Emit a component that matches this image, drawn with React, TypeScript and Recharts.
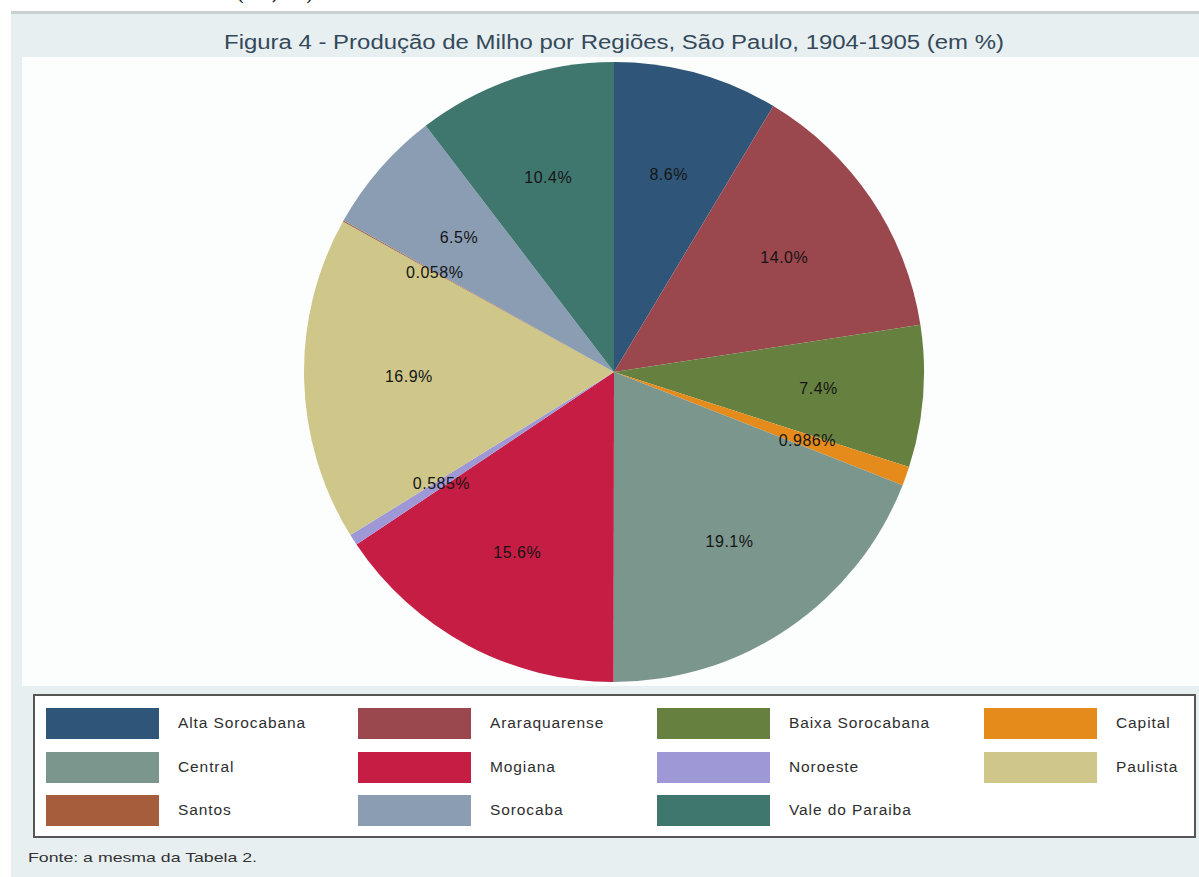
import React from "react";
import { PieChart, Pie, Cell, Legend } from "recharts";

const categories = [
  "Alta Sorocabana",
  "Araraquarense",
  "Baixa Sorocabana",
  "Capital",
  "Central",
  "Mogiana",
  "Noroeste",
  "Paulista",
  "Santos",
  "Sorocaba",
  "Vale do Paraiba",
];
const values = [8.6, 14.0, 7.4, 0.986, 19.1, 15.6, 0.585, 16.9, 0.058, 6.5, 10.4];
const colors = [
  "#2f5679",
  "#9a474e",
  "#65803f",
  "#e58b1c",
  "#7b968d",
  "#c51d44",
  "#9f98d6",
  "#cfc68a",
  "#a65d3b",
  "#8a9db3",
  "#3f776f",
];
const title = "Figura 4 - Produção de Milho por Regiões, São Paulo, 1904-1905 (em %)";
const footer = "Fonte: a mesma da Tabela 2.";

const data = categories.map((name, i) => ({ name, value: values[i] }));

const fmt = (v: number) => (v >= 1 ? v.toFixed(1) : v.toFixed(3)) + "%";

const RAD = Math.PI / 180;
const renderLabel = (props: any) => {
  const { cx, cy, midAngle, outerRadius, value } = props;
  const r = outerRadius * 0.662;
  const x = cx + r * Math.cos(-midAngle * RAD);
  const y = cy + r * Math.sin(-midAngle * RAD);
  return (
    <text
      x={x}
      y={y}
      textAnchor="middle"
      dominantBaseline="central"
      fill="#151515"
      fontSize={16}
      letterSpacing={0.5}
      fontFamily="Liberation Sans, Arial, sans-serif"
    >
      {fmt(value)}
    </text>
  );
};

const colLeft = [13, 325, 624, 951];

const LegendContent = (props: any) => {
  const payload = props.payload || [];
  return (
    <div
      style={{
        position: "relative",
        width: 1163,
        height: 144,
        boxSizing: "border-box",
        border: "2px solid #555",
        background: "#ffffff",
      }}
    >
      {payload.map((item: any, i: number) => {
        const col = i % 4;
        const row = Math.floor(i / 4);
        const left = colLeft[col] - 2;
        const top = 12 + row * 43.5;
        return (
          <div key={i}>
            <div
              style={{
                position: "absolute",
                left,
                top,
                width: 113,
                height: 31,
                background: item.color,
              }}
            />
            <div
              style={{
                position: "absolute",
                left: left + 132,
                top: top + 6,
                fontFamily: "Liberation Sans, Arial, sans-serif",
                fontSize: 15.5,
                letterSpacing: 0.9,
                color: "#2e2e2e",
                lineHeight: "18px",
                whiteSpace: "nowrap",
              }}
            >
              {item.value}
            </div>
          </div>
        );
      })}
    </div>
  );
};

export default function App() {
  return (
    <div
      style={{
        position: "absolute",
        left: 0,
        top: 0,
        width: 1199,
        height: 877,
        background: "#ffffff",
        overflow: "hidden",
      }}
    >
      <div style={{ position: "absolute", left: 11, top: 11, width: 1188, height: 3, background: "#c9d0d1" }} />
      <div style={{ position: "absolute", left: 11, top: 14, width: 1188, height: 863, background: "#e7eff1" }} />
      <div style={{ position: "absolute", left: 22, top: 57, width: 1177, height: 629, background: "#fcfdfd" }} />
      <svg
        width={1199}
        height={877}
        style={{ position: "absolute", left: 0, top: 0 }}
      >
        <text
          x={236}
          y={0}
          fontFamily="DejaVu Serif, serif"
          fontSize={22}
          fill="#222"
          textLength={78}
          lengthAdjust="spacing"
        >
          ( , )
        </text>
        <text
          x={614}
          y={49}
          textAnchor="middle"
          fontFamily="Liberation Sans, Arial, sans-serif"
          fontSize={20}
          fill="#34495a"
          textLength={780}
          lengthAdjust="spacingAndGlyphs"
        >
          {title}
        </text>
        <text
          x={28}
          y={862}
          fontFamily="Liberation Sans, Arial, sans-serif"
          fontSize={13.5}
          fill="#333"
          textLength={229}
          lengthAdjust="spacingAndGlyphs"
        >
          {footer}
        </text>
      </svg>
      <div style={{ position: "absolute", left: 0, top: 0 }}>
        <PieChart width={1199} height={877} margin={{ top: 0, right: 0, bottom: 0, left: 0 }}>
          <Pie
            data={data}
            dataKey="value"
            nameKey="name"
            cx={614}
            cy={372}
            outerRadius={310}
            startAngle={90}
            endAngle={-270}
            stroke="none"
            label={renderLabel}
            labelLine={false}
            isAnimationActive={false}
          >
            {data.map((d, i) => (
              <Cell key={d.name} fill={colors[i]} />
            ))}
          </Pie>
          <Legend
            content={<LegendContent />}
            wrapperStyle={{ left: 33, top: 694, width: 1163, height: 144 }}
          />
        </PieChart>
      </div>
    </div>
  );
}
